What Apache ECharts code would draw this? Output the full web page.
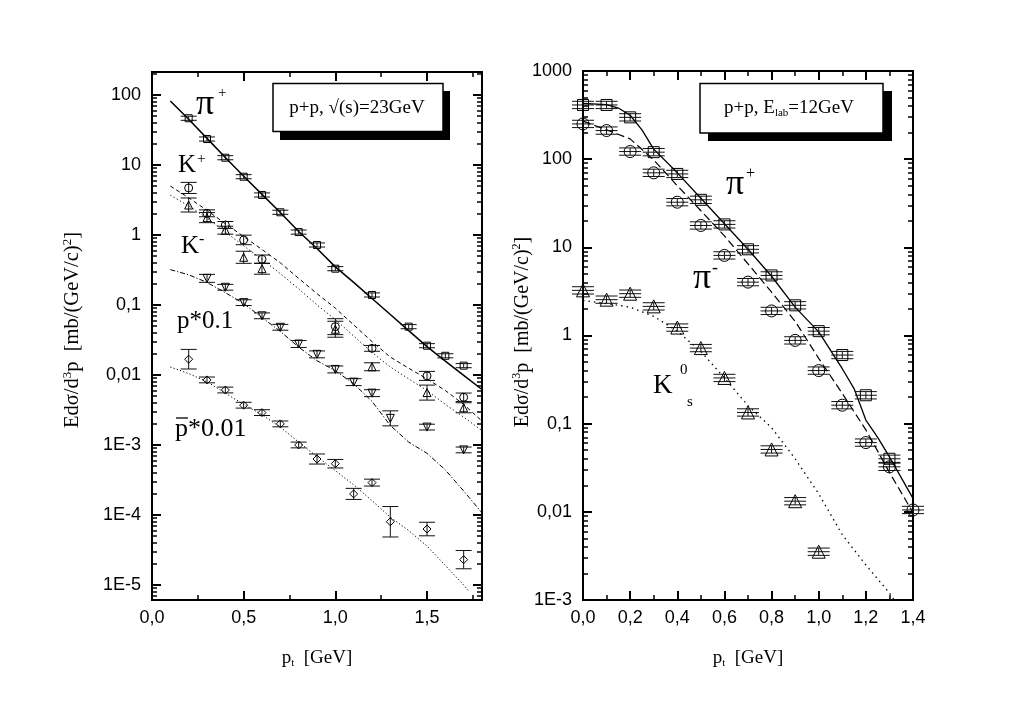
<!DOCTYPE html>
<html><head><meta charset="utf-8">
<script src="https://cdn.jsdelivr.net/npm/echarts@6/dist/echarts.min.js"></script>
<style>html,body{margin:0;padding:0;background:#fff}#c{width:1016px;height:708px}</style>
</head><body><div id="c"></div><script>
// ===== Left panel: p+p, sqrt(s)=23 GeV =====
const L_pip_x = [0.2,0.3,0.4,0.5,0.6,0.7,0.8,0.9,1.0,1.2,1.4,1.5,1.6,1.7];
const L_pip_y = [46.5,23.5,12.7,6.8,3.73,2.11,1.1,0.72,0.33,0.139,0.049,0.0262,0.0188,0.0136];
const L_pip_err = [1.07,1.07,1.07,1.07,1.07,1.07,1.07,1.07,1.07,1.07,1.07,1.07,1.07,1.07];

const L_kp_x = [0.2,0.3,0.4,0.5,0.6,1.0,1.2,1.5,1.7];
const L_kp_y = [4.7,2.04,1.39,0.85,0.45,0.049,0.024,0.0097,0.0048];
const L_kp_err = [1.2,1.12,1.12,1.17,1.15,1.3,1.1,1.16,1.15];

const L_km_x = [0.2,0.3,0.4,0.5,0.6,1.0,1.2,1.5,1.7];
const L_km_y = [2.68,1.77,1.17,0.48,0.33,0.045,0.0131,0.0056,0.0034];
const L_km_err = [1.26,1.18,1.14,1.22,1.2,1.3,1.14,1.28,1.18];

const L_p_x = [0.3,0.4,0.5,0.6,0.7,0.8,0.9,1.0,1.1,1.2,1.3,1.5,1.7];
const L_p_y = [0.24,0.179,0.108,0.07,0.048,0.0277,0.0197,0.012,0.0079,0.0055,0.0024,0.0018,0.00085];
const L_p_err = [1.14,1.1,1.1,1.1,1.1,1.12,1.12,1.12,1.12,1.12,1.28,1.1,1.1];

const L_pbar_x = [0.2,0.3,0.4,0.5,0.6,0.7,0.8,0.9,1.0,1.1,1.2,1.3,1.5,1.7];
const L_pbar_y = [0.0168,0.0085,0.0061,0.0037,0.0029,0.002,0.001,0.00063,0.00054,0.0002,0.00029,0.00008,0.000063,0.000023];
const L_pbar_err = [1.38,1.1,1.1,1.1,1.1,1.1,1.1,1.18,1.15,1.2,1.12,1.65,1.25,1.35];

// model curves (left)
const L_curve_x = [0.1,0.2,0.3,0.4,0.5,0.6,0.7,0.8,0.9,1.0,1.1,1.2,1.3,1.4,1.5,1.6,1.7,1.8];
const L_pip_curve = [82,45,24,12.8,6.9,3.8,2.1,1.12,0.64,0.35,0.21,0.124,0.073,0.043,0.0254,0.0158,0.0099,0.0062];
const L_kp_curve = [5.0,3.4,2.25,1.45,0.95,0.62,0.4,0.24,0.145,0.09,0.052,0.03,0.018,0.0125,0.0088,0.006,0.0038,0.0022];
const L_km_curve = [3.7,2.6,1.75,1.1,0.7,0.45,0.28,0.17,0.1,0.062,0.036,0.021,0.013,0.0088,0.006,0.0038,0.0025,0.0016];
const L_p_curve = [0.32,0.27,0.21,0.15,0.105,0.066,0.042,0.025,0.016,0.0115,0.0075,0.0042,0.0019,0.0011,0.00076,0.00044,0.00022,0.000107];
const L_pbar_curve_x = [0.1,0.2,0.3,0.4,0.5,0.6,0.7,0.8,0.9,1.0,1.1,1.2,1.3,1.4,1.5,1.6,1.7,1.73];
const L_pbar_curve = [0.013,0.0105,0.008,0.0055,0.0038,0.0027,0.0018,0.0011,0.00068,0.00043,0.00027,0.00016,0.000093,0.00006,0.000036,0.000019,0.00001,0.000008];

const L_xTickVals = [0,0.5,1.0,1.5];
const L_xTickLabels = ['0,0','0,5','1,0','1,5'];
const L_xMinorVals = [0.25,0.75,1.25,1.75];
const L_yTickVals = [1e-5,1e-4,1e-3,0.01,0.1,1,10,100];
const L_yTickLabels = ['1E-5','1E-4','1E-3','0,01','0,1','1','10','100'];

// ===== Right panel: p+p, E_lab=12 GeV =====
const R_pip_x = [0,0.1,0.2,0.3,0.4,0.5,0.6,0.7,0.8,0.9,1.0,1.1,1.2,1.3];
const R_pip_y = [412,412,298,120,68,34.6,18.2,9.5,4.8,2.2,1.12,0.6,0.21,0.04];
const R_pim_x = [0,0.1,0.2,0.3,0.4,0.5,0.6,0.7,0.8,0.9,1.0,1.1,1.2,1.3,1.4];
const R_pim_y = [251,211,122,70,32.5,17.7,8.1,4.03,1.9,0.88,0.40,0.162,0.061,0.0324,0.0105];
const R_k0_x = [0,0.1,0.2,0.3,0.4,0.5,0.6,0.7,0.8,0.9,1.0];
const R_k0_y = [3.25,2.55,2.98,2.14,1.23,0.72,0.33,0.134,0.051,0.0132,0.00353];
const R_err = 1.1;

const R_pip_curve_x = [0,0.1,0.15,0.2,0.25,0.3,0.4,0.5,0.6,0.7,0.8,0.9,1.0,1.1,1.15,1.2,1.25,1.3,1.4];
const R_pip_curve = [430,415,380,315,215,130,70,36,18.5,9.5,4.7,2.1,1.1,0.42,0.25,0.11,0.07,0.042,0.0142];
const R_pim_curve_x = [0,0.1,0.2,0.3,0.4,0.5,0.6,0.7,0.8,0.9,1.0,1.1,1.2,1.3,1.4];
const R_pim_curve = [270,215,170,98,50,26,13.5,6.5,3.1,1.45,0.55,0.22,0.085,0.028,0.0098];
const R_k0_curve_x = [0,0.1,0.2,0.3,0.4,0.5,0.6,0.7,0.8,0.9,1.0,1.1,1.2,1.3,1.32];
const R_k0_curve = [2.5,2.3,2.1,1.65,1.12,0.66,0.33,0.16,0.09,0.04,0.016,0.0055,0.0025,0.0012,0.001];

const R_xTickVals = [0,0.2,0.4,0.6,0.8,1.0,1.2,1.4];
const R_xTickLabels = ['0,0','0,2','0,4','0,6','0,8','1,0','1,2','1,4'];
const R_xMinorVals = [0.1,0.3,0.5,0.7,0.9,1.1,1.3];
const R_yTickVals = [1e-3,0.01,0.1,1,10,100,1000];
const R_yTickLabels = ['1E-3','0,01','0,1','1','10','100','1000'];

// ===== build =====
const SERIF = 'Liberation Serif', SANS = 'Liberation Sans';
const L_range = {xmin:0, xmax:1.8, ymin:6.1e-6, ymax:213};
const R_range = {xmin:0, xmax:1.4, ymin:1e-3, ymax:1000};

function zip(xs, ys){ return xs.map((x,i)=>[x, ys[i]]); }
function minorLog(min, max){
  const out=[];
  for(let d=Math.floor(Math.log10(min)); d<=Math.ceil(Math.log10(max)); d++){
    for(let k=2;k<=9;k++){ const v=k*Math.pow(10,d); if(v>min && v<max) out.push(v); }
  }
  return out;
}
function labelFor(vals, labels){
  return function(v){
    for(let i=0;i<vals.length;i++){ if(Math.abs(vals[i]-v) <= Math.abs(vals[i])*1e-6 + 1e-12) return labels[i]; }
    return '';
  };
}
const lineBlack = {color:'#000', width:2};
function xAxesFor(g, r, majors, minors, labels){
  const base = {type:'value', gridIndex:g, min:r.xmin, max:r.xmax,
    axisLine:{onZero:false, lineStyle:lineBlack}, splitLine:{show:false}};
  const lab = {customValues:majors, formatter:labelFor(majors, labels), margin:9, fontSize:18, fontFamily:SANS, color:'#000'};
  return [
    Object.assign({}, base, {position:'bottom', axisTick:{inside:true, length:9, customValues:majors, lineStyle:{width:2,color:'#000'}}, axisLabel:lab}),
    Object.assign({}, base, {position:'bottom', axisTick:{inside:true, length:5, customValues:minors, lineStyle:{width:1.5,color:'#000'}}, axisLabel:{show:false}}),
    Object.assign({}, base, {position:'top', axisTick:{inside:true, length:9, customValues:majors, lineStyle:{width:2,color:'#000'}}, axisLabel:{show:false}}),
    Object.assign({}, base, {position:'top', axisTick:{inside:true, length:5, customValues:minors, lineStyle:{width:1.5,color:'#000'}}, axisLabel:{show:false}})
  ];
}
function yAxesFor(g, r, majors, labels){
  const minors = minorLog(r.ymin, r.ymax);
  const base = {type:'log', logBase:10, gridIndex:g, min:r.ymin, max:r.ymax,
    axisLine:{onZero:false, lineStyle:lineBlack}, splitLine:{show:false}};
  const lab = {customValues:majors, formatter:labelFor(majors, labels), margin:11, fontSize:18, fontFamily:SANS, color:'#000'};
  return [
    Object.assign({}, base, {position:'left', axisTick:{inside:true, length:9, customValues:majors, lineStyle:{width:2,color:'#000'}}, axisLabel:lab}),
    Object.assign({}, base, {position:'left', axisTick:{inside:true, length:5, customValues:minors, lineStyle:{width:1.5,color:'#000'}}, axisLabel:{show:false}}),
    Object.assign({}, base, {position:'right', axisTick:{inside:true, length:9, customValues:majors, lineStyle:{width:2,color:'#000'}}, axisLabel:{show:false}}),
    Object.assign({}, base, {position:'right', axisTick:{inside:true, length:5, customValues:minors, lineStyle:{width:1.5,color:'#000'}}, axisLabel:{show:false}})
  ];
}
function scatter(xs, ys, sym, size, rot, ax){
  return {type:'scatter', xAxisIndex:ax, yAxisIndex:ax, data:zip(xs,ys), symbol:sym, symbolSize:size, symbolRotate:rot||0,
    itemStyle:{color:'rgba(0,0,0,0)', borderColor:'#000', borderWidth:1, opacity:1}, z:5, silent:true, clip:false};
}
function errbars(xs, ys, errs, halfW, ax, center){
  const data = xs.map((x,i)=>{ const e = Array.isArray(errs)?errs[i]:errs; return [x, ys[i]/e, ys[i]*e, ys[i]]; });
  return {type:'custom', xAxisIndex:ax, yAxisIndex:ax, data, silent:true, z:4,
    renderItem:function(p, api){
      const x = api.value(0);
      const lo = api.coord([x, api.value(1)]), hi = api.coord([x, api.value(2)]), c = api.coord([x, api.value(3)]);
      const st = {stroke:'#111', lineWidth:1, fill:null};
      const ch = [
        {type:'line', shape:{x1:lo[0],y1:lo[1],x2:hi[0],y2:hi[1]}, style:st},
        {type:'line', shape:{x1:lo[0]-halfW,y1:lo[1],x2:lo[0]+halfW,y2:lo[1]}, style:st},
        {type:'line', shape:{x1:hi[0]-halfW,y1:hi[1],x2:hi[0]+halfW,y2:hi[1]}, style:st}
      ];
      if(center) ch.push({type:'line', shape:{x1:c[0]-halfW,y1:c[1],x2:c[0]+halfW,y2:c[1]}, style:st});
      return {type:'group', children:ch};
    }};
}
function curve(xs, ys, ax, type, width){
  return {type:'line', xAxisIndex:ax, yAxisIndex:ax, data:zip(xs,ys), showSymbol:false, symbol:'none',
    lineStyle:{color:'#000', width:width, type:type}, z:3, silent:true};
}

const series = [
  curve(L_curve_x, L_pip_curve, 0, 'solid', 1.5),
  curve(L_curve_x, L_kp_curve, 0, [4,3], 1),
  curve(L_curve_x, L_km_curve, 0, [1.2,2.5], 1),
  curve(L_curve_x, L_p_curve, 0, [5,2,1.2,2], 1),
  curve(L_pbar_curve_x, L_pbar_curve, 0, [1.2,2.2], 1),
  errbars(L_pip_x, L_pip_y, L_pip_err, 8, 0, false),
  errbars(L_kp_x, L_kp_y, L_kp_err, 8, 0, false),
  errbars(L_km_x, L_km_y, L_km_err, 8, 0, false),
  errbars(L_p_x, L_p_y, L_p_err, 8, 0, false),
  errbars(L_pbar_x, L_pbar_y, L_pbar_err, 8, 0, false),
  scatter(L_pip_x, L_pip_y, 'rect', 7, 0, 0),
  scatter(L_kp_x, L_kp_y, 'circle', 8, 0, 0),
  scatter(L_km_x, L_km_y, 'triangle', 8, 0, 0),
  scatter(L_p_x, L_p_y, 'triangle', 8, 180, 0),
  scatter(L_pbar_x, L_pbar_y, 'diamond', 8, 0, 0),

  curve(R_pip_curve_x, R_pip_curve, 4, 'solid', 1.3),
  curve(R_pim_curve_x, R_pim_curve, 4, [8,4], 1.2),
  curve(R_k0_curve_x, R_k0_curve, 4, [1.5,4], 1.3),
  errbars(R_pip_x, R_pip_y, R_err, 11, 4, true),
  errbars(R_pim_x, R_pim_y, R_err, 11, 4, true),
  errbars(R_k0_x, R_k0_y, R_err, 11, 4, true),
  scatter(R_pip_x, R_pip_y, 'rect', 11, 0, 4),
  scatter(R_pim_x, R_pim_y, 'circle', 12, 0, 4),
  scatter(R_k0_x, R_k0_y, 'triangle', 13, 0, 4)
];

function T(x, y, text, size, extra){
  return {type:'text', x:x, y:y, z:100, silent:true, style:Object.assign({text:text, fontSize:size, fontFamily:SERIF, fill:'#000',
    textAlign:'left', align:'left', textVerticalAlign:'middle', verticalAlign:'middle'}, extra||{})};
}
function yTitle(x, y, size){
  return {type:'text', x:x, y:y, rotation:Math.PI/2, z:100, silent:true,
    style:{text:'{n|Ed\u03C3/d}{u|3}{n|p  [mb/(GeV/c)}{u|2}{n|]}', textAlign:'center', align:'center', textVerticalAlign:'middle', verticalAlign:'middle',
      rich:{n:{fontSize:size, fontFamily:SERIF, lineHeight:24, verticalAlign:'middle'}, u:{fontSize:Math.round(size*0.62), fontFamily:SERIF, lineHeight:24, verticalAlign:'top', padding:[0,0,8,0]}}}};
}
function xTitle(x, y){
  return {type:'text', x:x, y:y, z:100, silent:true,
    style:{text:'{n|p}{s|t}{n|  [GeV]}', textAlign:'center', align:'center', textVerticalAlign:'middle', verticalAlign:'middle',
      rich:{n:{fontSize:19, fontFamily:SERIF, lineHeight:22, verticalAlign:'middle'}, s:{fontSize:11, fontFamily:SERIF, lineHeight:22, verticalAlign:'bottom', padding:[6,0,0,0]}}}};
}
const graphic = [
  // left legend box
  {type:'rect', shape:{x:280, y:91, width:170, height:49}, style:{fill:'#000'}, z:90},
  {type:'rect', shape:{x:273, y:83.5, width:170, height:48}, style:{fill:'#fff', stroke:'#000', lineWidth:1.5}, z:91},
  T(357, 108, 'p+p, \u221A(s)=23GeV', 19, {textAlign:'center', align:'center'}),
  // right legend box
  {type:'rect', shape:{x:708, y:91, width:184, height:50}, style:{fill:'#000'}, z:90},
  {type:'rect', shape:{x:700, y:83.5, width:183, height:49.5}, style:{fill:'#fff', stroke:'#000', lineWidth:1.5}, z:91},
  T(789, 108, '{n|p+p, E}{s|lab}{n|=12GeV}', 19, {textAlign:'center', align:'center',
    rich:{n:{fontSize:19, fontFamily:SERIF, lineHeight:22, verticalAlign:'middle'}, s:{fontSize:11, fontFamily:SERIF, lineHeight:22, verticalAlign:'bottom', padding:[6,0,0,0]}}}),
  // left labels
  T(196, 105, '\u03C0', 36),
  T(218, 93, '+', 15),
  T(178, 165, 'K', 25),
  T(197, 159, '+', 15),
  T(181, 246, 'K', 25),
  T(199, 240, '-', 16),
  T(177, 321, 'p*0.1', 25),
  T(175, 429, 'p*0.01', 26),
  {type:'line', shape:{x1:176, y1:418, x2:188, y2:418}, style:{stroke:'#000', lineWidth:1.3}, z:100},
  // right labels
  T(726, 185, '\u03C0', 36),
  T(746, 174, '+', 16),
  T(693, 279, '\u03C0', 36),
  T(712, 268, '-', 18),
  T(653, 386, 'K', 27),
  T(680, 370, '0', 15),
  T(687, 402, 's', 15),
  // axis titles
  yTitle(73, 330, 20.5),
  yTitle(523, 332, 20),
  xTitle(317, 658),
  xTitle(748, 658)
];

const chart = echarts.init(document.getElementById('c'));
chart.setOption({
  animation:false,
  backgroundColor:'#fff',
  grid:[{left:152, top:72, width:330, height:528}, {left:583, top:71, width:330, height:529}],
  xAxis: [].concat(xAxesFor(0, L_range, L_xTickVals, L_xMinorVals, L_xTickLabels), xAxesFor(1, R_range, R_xTickVals, R_xMinorVals, R_xTickLabels)),
  yAxis: [].concat(yAxesFor(0, L_range, L_yTickVals, L_yTickLabels), yAxesFor(1, R_range, R_yTickVals, R_yTickLabels)),
  series: series,
  graphic: graphic
});
</script></body></html>
